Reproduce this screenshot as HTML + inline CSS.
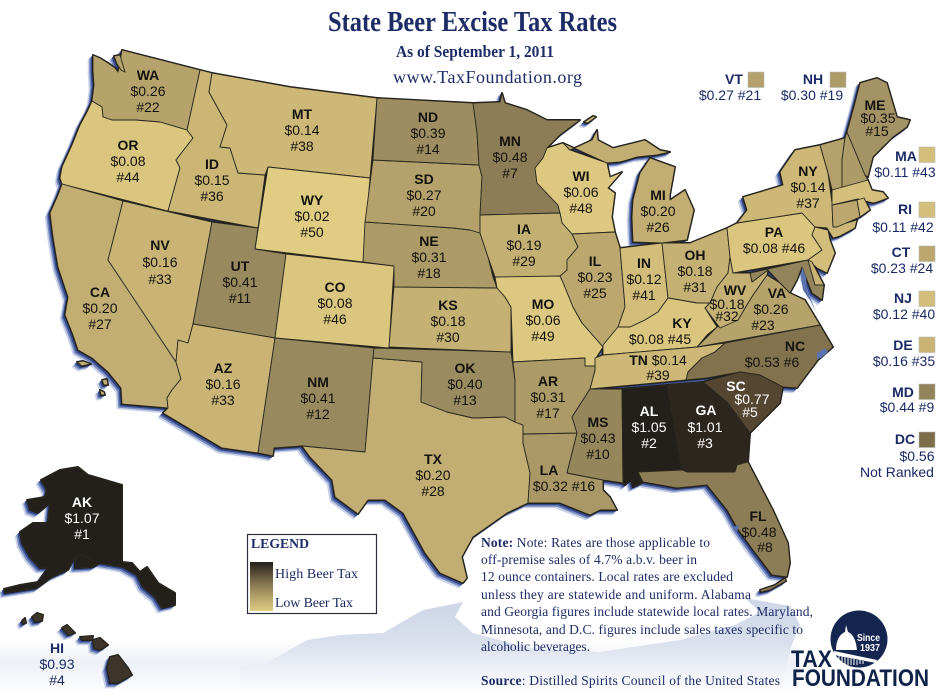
<!DOCTYPE html>
<html lang="en">
<head>
<meta charset="utf-8">
<title>State Beer Excise Tax Rates</title>
<style>
html,body{margin:0;padding:0;background:#fff;width:940px;height:698px;overflow:hidden}
svg{display:block}
.lbl{font-family:"Liberation Sans",sans-serif;font-size:14px;text-anchor:middle}
.serif{font-family:"Liberation Serif",serif;fill:#1d2c66}
.note{font-size:13.5px}
</style>
</head>
<body>
<svg id="chart" xmlns="http://www.w3.org/2000/svg" width="940" height="698" viewBox="0 0 940 698">
<defs>
<linearGradient id="waveFill" x1="0" y1="0" x2="0" y2="1"><stop offset="0" stop-color="#cdd5e7"/><stop offset=".45" stop-color="#d9dfec"/><stop offset=".75" stop-color="#eef1f7"/><stop offset="1" stop-color="#fff"/></linearGradient>
<linearGradient id="bandFill" x1="0" y1="0" x2="0" y2="1"><stop offset="0" stop-color="#fff"/><stop offset=".4" stop-color="#edf0f6"/><stop offset="1" stop-color="#fff"/></linearGradient>
<linearGradient id="legendFill" x1="0" y1="0" x2="0" y2="1"><stop offset="0" stop-color="#231f1a"/><stop offset=".4" stop-color="#7d6e4c"/><stop offset=".75" stop-color="#bba86d"/><stop offset="1" stop-color="#e0cd83"/></linearGradient>
</defs>

<rect x="0" y="640" width="800" height="56" fill="url(#bandFill)"/>
<path fill="url(#waveFill)" d="M240,665L267,663 307,640 340,635 383,633 423,610 463,602 455,617 473,633 530,648 600,652 680,640 735,625 760,612 745,598 790,606 800,625 790,650 780,695 240,695Z"/>

<g id="shadowOuter" transform="translate(-4.5 4.5)" fill="#9fb0d8" stroke="#9fb0d8" stroke-width="1.5" stroke-linejoin="round" opacity=".55"></g>
<g id="shadowMid" transform="translate(-3.2 3.2)" fill="#6278b5" stroke="#6278b5" stroke-width="1" stroke-linejoin="round" opacity=".8"></g>
<g id="shadowInner" transform="translate(-1.8 1.8)" fill="#35498c" stroke="#35498c" stroke-width="1" stroke-linejoin="round"></g>
<g id="outlineLayer" fill="#1c1b18" stroke="#1c1b18" stroke-width="2" stroke-linejoin="round"></g>
<g id="mapLayer"></g>
<g id="waterLayer" fill="#5a72ad">
<path d="M802,267 806,277 807,290 812,302 816,312 810,300 803,290 801,278Z"/>
<path d="M817,353 825,348 828,352 821,358 817,359Z"/>
<path d="M733,527 739,525 737,532Z"/>
</g>
<g id="labelLayer"></g>
<g id="sideLayer"></g>

<text class="serif" x="328" y="31" font-size="28" font-weight="bold" textLength="289" lengthAdjust="spacingAndGlyphs">State Beer Excise Tax Rates</text>
<text class="serif" x="396" y="57" font-size="17" font-weight="bold" textLength="158" lengthAdjust="spacingAndGlyphs">As of September 1, 2011</text>
<text class="serif" x="393" y="83" font-size="18" textLength="189" lengthAdjust="spacing">www.TaxFoundation.org</text>

<g>
<rect x="247.5" y="534.5" width="129" height="79" fill="#fff" stroke="#2c2f3c" stroke-width="1.2"/>
<text class="serif" x="251" y="548" font-size="14" font-weight="bold" textLength="58" lengthAdjust="spacingAndGlyphs">LEGEND</text>
<rect x="250" y="562" width="23" height="49" fill="url(#legendFill)"/>
<text class="serif" x="275" y="578" font-size="14" textLength="83" lengthAdjust="spacing">High Beer Tax</text>
<text class="serif" x="275" y="607" font-size="14" textLength="78" lengthAdjust="spacing">Low Beer Tax</text>
</g>

<g class="serif note">
<text class="serif note" x="481" y="547" textLength="229" lengthAdjust="spacing"><tspan font-weight="bold">Note:</tspan> Note: Rates are those applicable to</text>
<text class="serif note" x="481" y="564" textLength="216" lengthAdjust="spacing">off-premise sales of 4.7% a.b.v. beer in</text>
<text class="serif note" x="481" y="581" textLength="252" lengthAdjust="spacing">12 ounce containers. Local rates are excluded</text>
<text class="serif note" x="481" y="599" textLength="270" lengthAdjust="spacing">unless they are statewide and uniform.  Alabama</text>
<text class="serif note" x="481" y="616" textLength="332" lengthAdjust="spacing">and Georgia figures include statewide local rates. Maryland,</text>
<text class="serif note" x="481" y="634" textLength="322" lengthAdjust="spacing">Minnesota, and D.C. figures include sales taxes specific to</text>
<text class="serif note" x="481" y="651" textLength="109" lengthAdjust="spacing">alcoholic beverages.</text>
<text class="serif note" x="481" y="685" textLength="299" lengthAdjust="spacing"><tspan font-weight="bold">Source</tspan>: Distilled Spirits Council of the United States</text>
</g>

<g>
<circle cx="859" cy="639" r="28.5" fill="#14264f"/>
<path fill="#fff" d="M846,625 848,632C853,634 856,640 857,650L836,650C836,640 840,634 845,632Z M834,651 877,660 876,663 834,655Z"/>
<path stroke="#fff" stroke-width="1" d="M839,656v7M842,656v8M845,657v8M848,658v7M851,658v7M854,659v6M857,660v5M860,660v4M863,661v3"/>
<text x="857" y="641" font-family="'Liberation Sans',sans-serif" font-size="10.5" font-weight="bold" fill="#fff" textLength="23" lengthAdjust="spacingAndGlyphs">Since</text>
<text x="860" y="651" font-family="'Liberation Sans',sans-serif" font-size="10.5" font-weight="bold" fill="#fff" textLength="20" lengthAdjust="spacingAndGlyphs">1937</text>
<text x="791" y="667" font-family="'Liberation Sans',sans-serif" font-size="24" font-weight="bold" fill="#0f2249" textLength="41" lengthAdjust="spacingAndGlyphs">TAX</text>
<text x="792" y="686" font-family="'Liberation Sans',sans-serif" font-size="24" font-weight="bold" fill="#0f2249" textLength="137" lengthAdjust="spacingAndGlyphs">FOUNDATION</text>
</g>
</svg>

<script>
// ---- data ----
const stateCodes = ["AK","AL","GA","HI","SC","NC","MN","FL","MD","MS","UT","NM","OK","ND","ME","AR","LA","NE","NH","SD","VT","WA","VA","CT","IL","MI","CA","TX","IA","KS","OH","WV","NV","AZ","DE","ID","NY","MT","TN","NJ","IN","RI","MA","OR","KY","PA","CO","WI","MO","WY","DC"];
const taxRates = [1.07,1.05,1.01,0.93,0.77,0.53,0.48,0.48,0.44,0.43,0.41,0.41,0.40,0.39,0.35,0.31,0.32,0.31,0.30,0.27,0.27,0.26,0.26,0.23,0.23,0.20,0.20,0.20,0.19,0.18,0.18,0.18,0.16,0.16,0.16,0.15,0.14,0.14,0.14,0.12,0.12,0.11,0.11,0.08,0.08,0.08,0.08,0.06,0.06,0.02,0.56];
const taxRanks = [1,2,3,4,5,6,7,8,9,10,11,12,13,14,15,17,16,18,19,20,21,22,23,24,25,26,27,28,29,30,31,32,33,33,35,36,37,38,39,40,41,42,43,44,45,46,46,48,49,50,null];
const rampRates = [0.02,0.08,0.14,0.20,0.26,0.31,0.40,0.48,0.53,0.77,0.93,1.05];
const rampColors = ["#e0cd83","#dbc680","#cdb877","#c2ad72","#b6a36c","#ac9a67","#9b8b60","#8d7d56","#83724e","#544630","#3d3529","#231f1a"];

// ---- map geometry (state outlines, not data) ----
const stateShapes = {
WA:"93,55 100,58 108,63 115,68 118,72 122,50 200,70 187,130 160,122 135,120 112,120 103,117 102,107 92,101 94,85 93,70",
OR:"92,101 102,107 103,117 112,120 135,120 160,122 187,130 193,138 176,160 180,168 168,211 62,184 60,178 62,167 72,145 80,125 88,110",
CA:"62,184 123,201 108,260 176,362 181,379 172,390 167,398 168,408 122,404 121,388 108,372 92,358 78,350 73,335 65,315 68,297 58,267 53,237 50,213 58,195",
NV:"123,201 212,222 193,324 188,343 178,340 176,362 108,260",
ID:"200,70 212,73 209,92 227,125 220,147 230,148 238,173 265,175 258,228 168,211 180,168 176,160 193,138 187,130",
MT:"212,73 290,87 377,98 370,178 268,167 265,175 238,173 230,148 220,147 227,125 209,92",
WY:"268,167 370,178 363,262 255,249",
UT:"212,222 258,228 255,249 286,254 275,338 193,324",
CO:"286,254 394,266 389,348 275,338",
AZ:"193,324 275,338 258,453 222,448 163,413 168,408 167,398 172,390 181,379 176,362 178,340 188,343",
NM:"275,338 374,348 373,358 365,452 302,446 274,448 273,456 258,453",
TX:"373,358 422,362 421,402 447,412 473,418 505,417 515,422 523,425 523,443 530,473 528,503 507,513 473,537 462,557 467,578 463,583 440,573 425,553 403,513 385,500 368,500 358,514 335,497 332,480 310,457 302,446 365,452",
OK:"374,348 511,352 515,380 515,422 505,417 473,418 447,412 421,402 422,362 373,358",
KS:"394,286 497,288 505,297 511,307 511,352 389,347",
NE:"365,222 453,228 470,230 480,233 488,257 493,277 497,288 394,287 394,266 363,262",
SD:"373,160 479,165 482,177 480,215 480,233 470,230 453,228 365,222",
ND:"377,98 473,103 477,133 479,165 373,160",
MN:"473,103 500,102 502,93 505,103 527,110 547,120 580,120 560,135 547,148 543,158 535,168 537,183 558,205 560,213 480,215 482,177 479,165 477,133",
WI:"547,148 563,143 570,150 607,163 610,177 622,172 608,188 615,193 612,217 615,232 572,234 562,223 560,213 558,205 537,183 535,168 543,158",
IA:"480,215 560,213 562,223 572,234 578,247 567,260 567,270 560,278 495,277 488,257 480,233",
MO:"495,277 560,276 562,280 573,307 582,323 597,340 603,347 596,358 595,366 585,366 585,358 513,362 511,307 505,297 497,288",
IL:"572,234 615,232 620,248 625,307 618,327 610,343 603,347 597,340 582,323 573,307 562,280 560,276 567,270 567,260 578,247",
IN:"620,248 662,243 668,298 658,312 645,320 630,327 618,327 625,307",
OH:"662,243 690,243 727,228 730,257 728,273 717,287 710,303 697,303 680,300 668,298",
MI:"633,242 632,217 633,200 640,173 650,158 675,167 670,195 670,200 685,190 694,210 687,240 662,243",
UPMI:"563,143 570,150 592,140 597,130 598,140 613,148 645,140 660,150 670,152 657,155 637,157 620,162 607,163",
KY:"618,327 630,327 645,320 658,312 668,298 680,300 697,303 710,303 705,308 717,327 707,335 697,347 603,355 603,345",
TN:"595,358 603,355 697,347 725,343 715,352 702,358 688,372 686,380 590,389 595,370",
NC:"725,343 820,325 833,347 818,360 797,388 783,387 760,375 740,372 707,378 686,380 688,372 702,358 715,352",
VA:"697,347 717,327 738,320 748,303 753,295 767,275 780,283 790,293 805,300 820,325",
WV:"710,303 717,287 728,273 730,257 733,273 750,273 752,282 768,270 767,275 753,295 748,303 738,320 720,328 705,308",
PA:"727,228 737,223 802,213 815,227 812,235 822,250 808,260 733,273 730,257",
NY:"737,223 747,210 743,197 783,185 780,172 795,150 820,145 828,173 832,203 833,227 857,220 855,228 840,236 833,238 827,228 815,227 802,213",
NJ:"815,227 828,230 830,240 835,253 827,273 817,268 808,260 822,250 812,235",
VT:"820,145 845,138 842,160 842,188 832,190 828,173",
NH:"845,138 847,132 865,175 868,180 842,188 842,160",
ME:"847,132 855,103 860,83 877,78 887,83 897,117 910,120 907,127 893,137 883,147 873,157 868,177 865,175",
MA:"832,190 868,180 872,190 883,192 888,198 877,202 873,203 858,199 832,205",
CT:"832,205 857,200 860,217 837,227 833,227",
RI:"857,200 864,198 870,210 860,217",
MD:"750,273 808,260 815,285 824,285 822,300 812,293 802,267 797,280 790,293 780,283 768,270 752,282",
DE:"808,260 812,262 824,285 815,285",
LA:"523,434 577,433 567,473 603,480 603,490 610,497 617,510 600,510 590,515 560,503 528,503 530,473 523,443",
AR:"513,362 585,358 585,366 595,366 595,370 590,389 572,417 577,433 523,434 523,425 515,422 515,380",
MS:"590,389 622,389 623,483 603,480 567,473 577,433 572,417",
AL:"622,389 667,385 682,470 638,472 642,483 633,487 631,480 625,485 623,483",
GA:"667,385 703,382 727,402 750,433 748,462 735,472 687,472 682,470",
SC:"703,382 740,372 760,375 783,387 780,403 750,433 727,402",
FL:"638,472 682,470 687,472 735,472 737,465 748,462 773,510 788,543 790,563 787,577 772,575 753,550 737,528 727,510 707,485 677,488 643,482",
AK:"41,480 60,470 78,467 88,475 122,485 122,562 132,563 140,572 147,567 158,583 175,593 175,605 162,608 155,597 143,587 137,575 123,567 100,563 93,567 75,568 75,557 68,570 52,577 37,588 5,593 4,589 20,585 38,582 48,568 40,568 30,557 22,543 20,532 33,523 48,523 50,503 38,513 30,510 27,500 45,497 47,490",
HI:"107,668 110,657 118,655 128,668 132,675 118,683 110,683"
};
const extraIslands = [
["AK","75,557 80,555 97,562 92,567 76,568"],
["HI","32,617 37,613 43,615 42,621 35,622"],
["HI","22,621 25,618 26,623 23,624"],
["HI","62,628 67,625 75,633 68,635"],
["HI","80,637 93,636 92,640 82,640"],
["HI","93,640 100,638 108,645 100,650 94,648"],
["CA","77,362 83,361 91,364 82,366"],
["CA","102,380 107,379 108,385 104,385"],
["CA","100,390 104,392 105,395 101,395"],
["WA","114,56 120,55 122,62 125,72 121,70 117,64"],
["FL","760,590 775,585 785,578 786,581 770,590 761,592"],
["MI","584,122 593,116 596,117 588,123"]
];
const shapeStateOf = {UPMI:"MI"};

// ---- label placement (x, centre-y, content tokens: c=code, r=rate, k=rank) ----
const labelPlacement = {
WA:[[148,75,"c"],[148,91,"r"],[148,107,"k"]],
OR:[[128,145,"c"],[128,161,"r"],[128,177,"k"]],
CA:[[100,292,"c"],[100,308,"r"],[100,324,"k"]],
ID:[[212,164,"c"],[212,180,"r"],[212,196,"k"]],
NV:[[160,245,"c"],[160,262,"r"],[160,279,"k"]],
MT:[[302,114,"c"],[302,130,"r"],[302,146,"k"]],
WY:[[312,200,"c"],[312,216,"r"],[312,232,"k"]],
UT:[[240,266,"c"],[240,282,"r"],[240,298,"k"]],
CO:[[335,287,"c"],[335,303,"r"],[335,319,"k"]],
AZ:[[223,368,"c"],[223,384,"r"],[223,400,"k"]],
NM:[[318,382,"c"],[318,398,"r"],[318,414,"k"]],
ND:[[428,117,"c"],[428,133,"r"],[428,149,"k"]],
SD:[[424,179,"c"],[424,195,"r"],[424,211,"k"]],
NE:[[429,241,"c"],[429,257,"r"],[429,273,"k"]],
KS:[[448,305,"c"],[448,321,"r"],[448,337,"k"]],
OK:[[465,368,"c"],[465,384,"r"],[465,400,"k"]],
TX:[[433,459,"c"],[433,475,"r"],[433,491,"k"]],
MN:[[510,141,"c"],[510,157,"r"],[510,173,"k"]],
IA:[[524,229,"c"],[524,245,"r"],[524,261,"k"]],
MO:[[543,304,"c"],[543,320,"r"],[543,336,"k"]],
AR:[[548,381,"c"],[548,397,"r"],[548,413,"k"]],
LA:[[549,470,"c"],[564,486,"r k"]],
WI:[[581,176,"c"],[581,192,"r"],[581,208,"k"]],
IL:[[595,261,"c"],[595,277,"r"],[595,293,"k"]],
IN:[[644,263,"c"],[644,279,"r"],[644,295,"k"]],
MI:[[658,195,"c"],[658,211,"r"],[658,227,"k"]],
OH:[[695,255,"c"],[695,271,"r"],[695,287,"k"]],
KY:[[682,323,"c"],[660,339,"r k"]],
WV:[[735,290,"c"],[727,304,"r"],[727,316,"k"]],
VA:[[777,293,"c"],[771,309,"r"],[763,325,"k"]],
PA:[[774,232,"c"],[774,248,"r k"]],
NY:[[808,171,"c"],[808,187,"r"],[808,203,"k"]],
ME:[[875,105,"c"],[878,118,"r"],[877,131,"k"]],
MS:[[598,422,"c"],[598,438,"r"],[598,454,"k"]],
AL:[[649,411,"c"],[649,427,"r"],[649,443,"k"]],
GA:[[706,410,"c"],[705,427,"r"],[705,443,"k"]],
SC:[[736,386,"c"],[752,399,"r"],[750,412,"k"]],
NC:[[795,346,"c"],[772,362,"r k"]],
TN:[[658,360,"c r"],[658,375,"k"]],
FL:[[758,516,"c"],[759,532,"r"],[765,547,"k"]],
AK:[[82,502,"c"],[82,518,"r"],[82,534,"k"]]
};
const calloutPlacement = {
VT:{code:[734,79],val:[730,95],box:[748,72]},
NH:{code:[813,79],val:[812,95],box:[830,72]},
MA:{code:[906,156],val:[905,172],box:[919,147]},
RI:{code:[905,209],val:[903,227],box:[919,202]},
CT:{code:[901,252],val:[902,268],box:[919,246]},
NJ:{code:[903,298],val:[904,314],box:[919,291]},
DE:{code:[903,345],val:[904,361],box:[919,337]},
MD:{code:[903,392],val:[907,407],box:[919,384]},
DC:{code:[905,439],val:[917,456],box:[919,432],rankLine:[897,472]}
};
const SVGNS = "http://www.w3.org/2000/svg";
const lightText = ["AK","AL","GA","SC"];

function hexRgb(h){return [1,3,5].map(function(i){return parseInt(h.substr(i,2),16);});}
function rateColor(v){
  var i = 0;
  if (v <= rampRates[0]) return rampColors[0];
  if (v >= rampRates[rampRates.length-1]) return rampColors[rampColors.length-1];
  while (v > rampRates[i+1]) i++;
  var t = (v-rampRates[i])/(rampRates[i+1]-rampRates[i]), a = hexRgb(rampColors[i]), b = hexRgb(rampColors[i+1]);
  return "rgb("+a.map(function(c,k){return Math.round(c+(b[k]-c)*t);}).join(",")+")";
}
function rateOf(code){return taxRates[stateCodes.indexOf(code)];}
function rankOf(code){return taxRanks[stateCodes.indexOf(code)];}
function money(v){return "$"+v.toFixed(2);}
function rankText(code){var r=rankOf(code);return r===null?"Not Ranked":"#"+r;}

var mapLayer = document.getElementById("mapLayer");
var outlineLayer = document.getElementById("outlineLayer");
var shadowGroups = [document.getElementById("shadowOuter"),document.getElementById("shadowMid"),document.getElementById("shadowInner")];
function addUnderlays(points){
  shadowGroups.forEach(function(g){
    var sh = document.createElementNS(SVGNS,"polygon");
    sh.setAttribute("points",points);
    
    
    g.appendChild(sh);
  });
  var ol = document.createElementNS(SVGNS,"polygon");
  ol.setAttribute("points",points);
  
  
  outlineLayer.appendChild(ol);
}
Object.keys(stateShapes).forEach(function(key){
  var code = shapeStateOf[key]||key;
  addUnderlays(stateShapes[key]);
  var p = document.createElementNS(SVGNS,"polygon");
  p.setAttribute("points",stateShapes[key]);
  p.setAttribute("fill",rateColor(rateOf(code)));
  p.setAttribute("stroke","#2a281f");
  p.setAttribute("stroke-width",".9");
  p.setAttribute("stroke-linejoin","round");
  
  
  mapLayer.appendChild(p);
});
extraIslands.forEach(function(item){
  addUnderlays(item[1]);
  var p = document.createElementNS(SVGNS,"polygon");
  p.setAttribute("points",item[1]);
  p.setAttribute("fill",rateColor(rateOf(item[0])));
  p.setAttribute("stroke","#2a281f");
  p.setAttribute("stroke-width",".9");
  
  
  mapLayer.appendChild(p);
});

function addTokens(t,code,tokens){
  tokens.split(" ").forEach(function(tok,i){
    var s = document.createElementNS(SVGNS,"tspan");
    var str = tok==="c"?code:tok==="r"?money(rateOf(code)):rankText(code);
    s.textContent = (i>0?" ":"")+str;
    if(tok==="c") s.setAttribute("font-weight","bold");
    t.appendChild(s);
  });
}
var labelLayer = document.getElementById("labelLayer");
Object.keys(labelPlacement).forEach(function(code){
  labelPlacement[code].forEach(function(line){
    var t = document.createElementNS(SVGNS,"text");
    t.setAttribute("class","lbl");
    t.setAttribute("x",line[0]);
    t.setAttribute("y",line[1]+5);
    t.setAttribute("fill",lightText.indexOf(code)>=0?"#fff":"#14120e");
    
    
    addTokens(t,code,line[2]);
    labelLayer.appendChild(t);
  });
});

var sideLayer = document.getElementById("sideLayer");
function sideText(x,y,str,bold,name){
  var t = document.createElementNS(SVGNS,"text");
  t.setAttribute("class","lbl");
  t.setAttribute("x",x);
  t.setAttribute("y",y+5);
  t.setAttribute("fill","#1b2a66");
  if(bold) t.setAttribute("font-weight","bold");
  t.textContent = str;
  
  
  sideLayer.appendChild(t);
}
Object.keys(calloutPlacement).forEach(function(code){
  var c = calloutPlacement[code];
  var r = document.createElementNS(SVGNS,"rect");
  r.setAttribute("x",c.box[0]);
  r.setAttribute("y",c.box[1]);
  r.setAttribute("width",16);
  r.setAttribute("height",15.5);
  r.setAttribute("fill",rateColor(rateOf(code)));
  r.setAttribute("stroke","#b8b8ae");
  r.setAttribute("stroke-width",".6");
  
  
  sideLayer.appendChild(r);
  sideText(c.code[0],c.code[1],code,true,'callout-code-'+code.toLowerCase());
  if(c.rankLine){
    sideText(c.val[0],c.val[1],money(rateOf(code)),false,'callout-rate-'+code.toLowerCase());
    sideText(c.rankLine[0],c.rankLine[1],rankText(code),false,'callout-rank-'+code.toLowerCase());
  } else {
    sideText(c.val[0],c.val[1],money(rateOf(code))+" "+rankText(code),false,'callout-value-'+code.toLowerCase());
  }
});
sideText(57,648,"HI",true,'callout-code-hi');
sideText(57,664,money(rateOf("HI")),false,'callout-rate-hi');
sideText(57,680,rankText("HI"),false,'callout-rank-hi');
</script>
</body>
</html>
